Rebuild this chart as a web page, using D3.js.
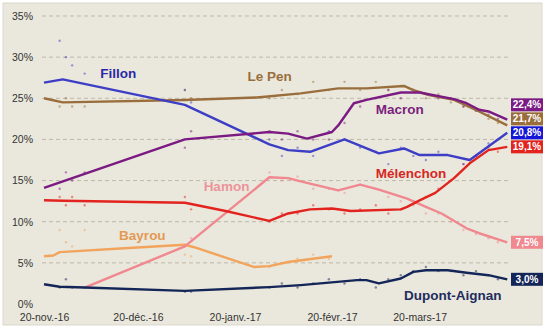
<!DOCTYPE html>
<html>
<head>
<meta charset="utf-8">
<script src="https://cdn.jsdelivr.net/npm/d3@7"></script>
<style>
  body { margin: 0; background: #fff; }
  text { font-family: "Liberation Sans", Arial, sans-serif; }
</style>
</head>
<body>
<div id="main"></div>
<script>
// --- poll averages (trend lines), one array per candidate: [date, %]
const fillonTrend = [['2016-11-20', 26.9], ['2016-11-26', 27.3], ['2017-01-04', 24.2], ['2017-01-31', 19.4],
  ['2017-02-06', 18.7], ['2017-02-13', 18.5], ['2017-02-24', 20.0], ['2017-03-07', 18.3], ['2017-03-15', 18.9],
  ['2017-03-20', 18.1], ['2017-03-29', 18.1], ['2017-04-05', 17.5], ['2017-04-17', 20.8]];
const lePenTrend = [['2016-11-20', 25.0], ['2016-11-26', 24.5], ['2017-01-04', 24.8], ['2017-01-27', 25.1],
  ['2017-02-10', 25.6], ['2017-02-22', 26.2], ['2017-03-03', 26.2], ['2017-03-15', 26.5], ['2017-03-18', 26.0],
  ['2017-03-23', 25.4], ['2017-03-31', 24.8], ['2017-04-08', 23.4], ['2017-04-17', 21.7]];
const macronTrend = [['2016-11-20', 14.1], ['2017-01-04', 20.0], ['2017-01-31', 20.9], ['2017-02-06', 20.7],
  ['2017-02-12', 20.1], ['2017-02-20', 20.9], ['2017-02-22', 21.7], ['2017-02-27', 24.4], ['2017-03-03', 24.8],
  ['2017-03-14', 25.7], ['2017-03-20', 25.7], ['2017-03-31', 24.9], ['2017-04-04', 24.4], ['2017-04-08', 23.6],
  ['2017-04-11', 23.4], ['2017-04-17', 22.4]];
const melenchonTrend = [['2016-11-20', 12.6], ['2016-11-26', 12.55], ['2017-01-04', 12.3], ['2017-01-17', 11.3],
  ['2017-01-31', 10.1], ['2017-02-06', 11.0], ['2017-02-13', 11.5], ['2017-02-20', 11.6], ['2017-02-26', 11.3],
  ['2017-03-14', 11.5], ['2017-03-16', 11.8], ['2017-03-20', 12.6], ['2017-03-25', 13.5], ['2017-03-31', 15.3],
  ['2017-04-05', 17.1], ['2017-04-11', 18.7], ['2017-04-17', 19.1]];
const hamonTrend = [['2016-12-03', 2.0], ['2017-01-04', 7.0], ['2017-01-31', 15.4], ['2017-02-06', 15.3],
  ['2017-02-10', 14.9], ['2017-02-22', 13.8], ['2017-03-01', 14.5], ['2017-03-07', 13.9], ['2017-03-16', 12.8],
  ['2017-03-22', 11.8], ['2017-03-27', 11.0], ['2017-04-04', 9.2], ['2017-04-08', 8.6], ['2017-04-17', 7.5]];
const bayrouTrend = [['2016-11-20', 5.8], ['2016-11-23', 5.9], ['2016-11-25', 6.3], ['2016-12-17', 6.8],
  ['2017-01-04', 7.2], ['2017-01-07', 6.9], ['2017-01-26', 4.5], ['2017-01-31', 4.6], ['2017-02-06', 5.1],
  ['2017-02-20', 5.8]];
const dupontTrend = [['2016-11-20', 2.4], ['2016-11-25', 2.1], ['2016-12-03', 2.0], ['2017-01-04', 1.6],
  ['2017-01-31', 2.05], ['2017-02-10', 2.3], ['2017-02-28', 2.9], ['2017-03-03', 2.9], ['2017-03-07', 2.5],
  ['2017-03-14', 3.1], ['2017-03-18', 3.9], ['2017-03-22', 4.1], ['2017-03-29', 4.1], ['2017-04-04', 3.8],
  ['2017-04-11', 3.5], ['2017-04-17', 3.0]];

// --- individual polls (dots), aligned with pollDates, null = not polled
const pollDates = ['2016-11-25', '2016-11-27', '2016-11-29', '2016-12-03', '2017-01-04', '2017-01-06',
  '2017-01-31', '2017-02-04', '2017-02-09', '2017-02-14', '2017-02-19', '2017-02-24', '2017-03-01', '2017-03-06',
  '2017-03-10', '2017-03-14', '2017-03-18', '2017-03-22', '2017-03-26', '2017-03-30', '2017-04-03', '2017-04-07',
  '2017-04-11', '2017-04-14'];
const fillonPolls = [32, 30, 29, 28, 26, 24.5, 20, 18, 19, 18, 21, 20, 19, 18.5, 17, 19, 18, 17.5, 18.5, 18, 17, 18, 19.5, 20];
const lePenPolls = [24, 25, 24, 24, 26, 25, 25, 26, 25.5, 27, 26, 27, 26, 27, 26, 26.5, 26, 25, 25.5, 24.5, 24, 23.5, 22.5, 22];
const macronPolls = [14, 16, 15, 16, 19, 21, 21, 20, 21, 20, 20, 22, 24, 25, 26, 25, 26, 25.5, 25, 25, 24, 23.5, 23, 22.5];
const melenchonPolls = [13, 12, 13, 12, 13, 11.5, 10, 11, 11, 12, 11.5, 11, 11.5, 12, 11, 11.5, 12.5, 13, 14, 15, 17, 18, 19, 18.5];
const hamonPolls = [null, null, null, null, 7, 8, 16, 15, 15.5, 14, 14, 13.5, 14.5, 14, 13, 12.5, 12, 11, 11, 10, 9, 8.5, 8, 7.5];
const bayrouPolls = [9, 7.5, 7, 9, 6, 5.8, 4.5, 5, 5.5, 6, 5.5, null, null, null, null, null, null, null, null, null, null, null, null, null];
const dupontPolls = [2, 3, 2, 2, 1.5, 1.5, 2, 2.5, 2, 2.5, 3, 2.5, 3, 2, 3, 3.5, 4, 4.5, 4, 4, 3.5, 4, 3.5, 3];

// --- candidates, name label anchor [date, %], colours
const candidates = [
  { name: 'Bayrou', trend: bayrouTrend, polls: bayrouPolls, at: ['2016-12-14', 8.4], line: '#F2A45C', text: '#E39A55', box: false },
  { name: 'Hamon', trend: hamonTrend, polls: hamonPolls, at: ['2017-01-10', 14.3], line: '#F0888F', text: '#EC949A', box: true },
  { name: 'Mélenchon', trend: melenchonTrend, polls: melenchonPolls, at: ['2017-03-06', 15.9], line: '#E2231E', text: '#D7261E', box: true },
  { name: 'Dupont-Aignan', trend: dupontTrend, polls: dupontPolls, at: ['2017-03-15', 1.1], line: '#142658', text: '#1E2C5E', box: true },
  { name: 'Le Pen', trend: lePenTrend, polls: lePenPolls, at: ['2017-01-24', 27.7], line: '#9A6E3C', text: '#9A6E3C', box: true },
  { name: 'Fillon', trend: fillonTrend, polls: fillonPolls, at: ['2016-12-08', 28.0], line: '#3D3DC6', text: '#2A2AA6', box: true, boxFill: '#1515D8' },
  { name: 'Macron', trend: macronTrend, polls: macronPolls, at: ['2017-03-06', 23.7], line: '#7A1A82', text: '#7A1F7E', box: true }
];

const yTicks = [0, 5, 10, 15, 20, 25, 30, 35];
const xTicks = ['2016-11-20', '2016-12-20', '2017-01-20', '2017-02-20', '2017-03-20'];
const xTickLabels = ['20-nov.-16', '20-déc.-16', '20-janv.-17', '20-févr.-17', '20-mars-17'];

const width = 548, height = 334;
const parse = d3.timeParse('%Y-%m-%d');

const svg = d3.select('#main').append('svg')
  .attr('width', width)
  .attr('height', height);

// panel
svg.append('rect')
  .attr('x', 3).attr('y', 3)
  .attr('width', 539).attr('height', 322)
  .attr('fill', '#EAE8DC')
  .attr('stroke', '#DAD7CB');

const xScale = d3.scaleTime()
  .domain([parse('2016-11-20'), parse('2017-04-18')])
  .range([44, 510.4]);
const yScale = d3.scaleLinear()
  .domain([0, 35])
  .range([304, 16]);

// dashed grid
svg.append('g').selectAll('line')
  .data(yTicks.filter(d => d > 0))
  .join('line')
  .attr('x1', 42).attr('x2', 510)
  .attr('y1', d => yScale(d)).attr('y2', d => yScale(d))
  .attr('stroke', '#BDB8A8')
  .attr('stroke-width', 1)
  .attr('stroke-dasharray', '4,3');

// axes
const yAxis = svg.append('g')
  .attr('transform', 'translate(33,0)')
  .call(d3.axisLeft(yScale).tickValues(yTicks).tickSize(0).tickPadding(0).tickFormat(d => d + '%'));
const xAxis = svg.append('g')
  .attr('transform', `translate(0,${yScale(0) + 8})`)
  .call(d3.axisBottom(xScale).tickValues(xTicks.map(parse)).tickSize(0).tickPadding(2)
    .tickFormat((d, i) => xTickLabels[i]));
[xAxis, yAxis].forEach(a => {
  a.select('.domain').remove();
  a.selectAll('text').attr('font-size', 10.5).attr('fill', '#333')
    .style('font-family', '"Liberation Sans", Arial, sans-serif');
});

// poll dots
candidates.forEach(c => {
  const pts = pollDates.map((d, i) => [d, c.polls[i]]).filter(p => p[1] != null);
  svg.append('g').selectAll('circle')
    .data(pts)
    .join('circle')
    .attr('cx', d => xScale(parse(d[0])))
    .attr('cy', d => yScale(d[1]))
    .attr('r', 1.2)
    .attr('fill', c.line)
    .attr('opacity', 0.5);
});

// trend lines
const line = d3.line()
  .x(d => xScale(parse(d[0])))
  .y(d => yScale(d[1]))
  .curve(d3.curveLinear);

candidates.forEach(c => {
  svg.append('path')
    .datum(c.trend)
    .attr('fill', 'none')
    .attr('stroke', c.line)
    .attr('stroke-width', 2.4)
    .attr('stroke-linejoin', 'round')
    .attr('d', line);
});

// candidate names
candidates.forEach(c => {
  svg.append('text')
    .attr('x', xScale(parse(c.at[0])))
    .attr('y', yScale(c.at[1]))
    .attr('dy', '0.36em')
    .attr('font-size', 13.5)
    .attr('font-weight', 'bold')
    .attr('fill', c.text)
    .text(c.name);
});

// last-value boxes on the right, pushed apart where they collide
const fmt = d3.format('.1f');
const boxes = candidates.filter(c => c.box).map(c => {
  const v = c.trend[c.trend.length - 1][1];
  return { c, v, y: yScale(v) };
}).sort((a, b) => b.y - a.y);
for (let i = 1; i < boxes.length; i++) {
  if (boxes[i].y > boxes[i - 1].y - 14) boxes[i].y = boxes[i - 1].y - 14;
}

const boxG = svg.append('g').selectAll('g')
  .data(boxes)
  .join('g')
  .attr('transform', d => `translate(511,${d.y})`);
boxG.append('rect')
  .attr('x', 0).attr('y', -6.5)
  .attr('width', 32).attr('height', 13)
  .attr('fill', d => d.c.boxFill || d.c.line);
boxG.append('text')
  .attr('x', 16).attr('y', 0)
  .attr('dy', '0.35em')
  .attr('text-anchor', 'middle')
  .attr('font-size', 10)
  .attr('font-weight', 'bold')
  .attr('fill', '#fff')
  .text(d => fmt(d.v).replace('.', ',') + '%');
</script>
</body>
</html>
